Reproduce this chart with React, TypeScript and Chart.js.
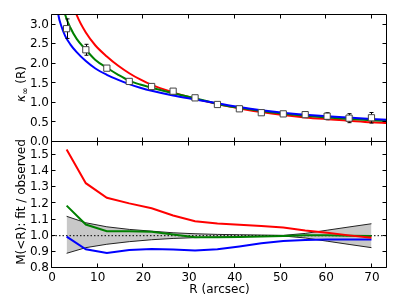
import React, { useEffect, useRef } from "react";
import { Chart, registerables } from "chart.js";

Chart.register(...registerables);

// ---------- data ----------
const R_OBS = [3.2, 7.4, 12.0, 16.9, 21.8, 26.5, 31.3, 36.2, 41.0, 45.8, 50.6, 55.4, 60.2, 65.0, 69.9];
const KAPPA_OBS = [2.9, 2.36, 1.89, 1.55, 1.42, 1.3, 1.13, 0.96, 0.85, 0.75, 0.72, 0.7, 0.66, 0.61, 0.62];
const KAPPA_ERR = [0.25, 0.14, 0.06, 0.04, 0.04, 0.04, 0.04, 0.03, 0.03, 0.03, 0.04, 0.07, 0.09, 0.115, 0.135];

const CURVE_R = [1.0, 1.4, 2.0, 2.9, 4.0, 5.4, 7.4, 9.5, 12, 14.5, 16.9, 19.3, 21.8, 26.5, 31.3, 36.2, 41, 45.8, 50.6, 55.4, 60.2, 65, 69.9, 73.3];
const KAPPA_RED = [7.5, 6.4, 5.3, 4.4, 3.75, 3.25, 2.8, 2.47, 2.19, 1.95, 1.76, 1.6, 1.46, 1.27, 1.11, 0.97, 0.86, 0.765, 0.69, 0.63, 0.585, 0.545, 0.505, 0.485];
const KAPPA_GREEN = [4.6, 4.1, 3.7, 3.25, 2.93, 2.64, 2.36, 2.1, 1.9, 1.72, 1.57, 1.47, 1.39, 1.25, 1.12, 0.975, 0.875, 0.79, 0.725, 0.67, 0.625, 0.59, 0.555, 0.535];
const KAPPA_BLUE = [3.65, 3.25, 2.98, 2.71, 2.5, 2.3, 2.07, 1.88, 1.72, 1.59, 1.48, 1.39, 1.31, 1.19, 1.09, 0.99, 0.895, 0.815, 0.75, 0.7, 0.66, 0.625, 0.59, 0.57];

const RATIO_RED = [1.534, 1.325, 1.235, 1.2, 1.17, 1.125, 1.09, 1.075, 1.067, 1.06, 1.05, 1.032, 1.018, 1.002, 0.988];
const RATIO_GREEN = [1.186, 1.069, 1.028, 1.028, 1.025, 1.008, 0.991, 0.99, 0.992, 0.995, 0.998, 1.002, 1.003, 1.0, 0.998];
const RATIO_BLUE = [0.994, 0.916, 0.893, 0.912, 0.918, 0.914, 0.908, 0.916, 0.933, 0.953, 0.967, 0.973, 0.977, 0.977, 0.977];
const BAND_UPPER = [1.12, 1.08, 1.055, 1.039, 1.028, 1.018, 1.012, 1.008, 1.006, 1.004, 1.002, 1.014, 1.034, 1.054, 1.074];
const BAND_LOWER = [0.891, 0.926, 0.947, 0.963, 0.975, 0.983, 0.988, 0.991, 0.994, 0.996, 0.998, 0.986, 0.966, 0.946, 0.926];
const REF_LINE = [1.0, 1.0];

const X_TICKS = [0, 10, 20, 30, 40, 50, 60, 70];
const KAPPA_TICKS = [0, 0.5, 1.0, 1.5, 2.0, 2.5, 3.0];
const RATIO_TICKS = [0.8, 0.9, 1.0, 1.1, 1.2, 1.3, 1.4, 1.5];
const X_MIN = 0;
const X_MAX = 73.3;
const KAPPA_MIN = 0;
const KAPPA_MAX = 3.25;
const RATIO_MIN = 0.8;
const RATIO_MAX = 1.58;

const X_TITLE = "R (arcsec)";
const KAPPA_TITLE_MAIN = "κ";
const KAPPA_TITLE_SUB = "∞";
const KAPPA_TITLE_REST = " (R)";
const RATIO_TITLE = "M(<R): fit / observed";

const FONT = "DejaVu Sans";
const W = 407;
const H = 308;

const pts = (xs: number[], ys: number[]) => xs.map((x, i) => ({ x, y: ys[i] }));

function makeFramePlugin(xTicks: number[], yTicks: number[], drawTitle: (ctx: CanvasRenderingContext2D, area: any) => void) {
  return {
    id: "frame",
    afterDraw(chart: any) {
      const { ctx, chartArea: a, scales } = chart;
      const xs = scales.x;
      const ys = scales.y;
      const L = Math.round(a.left) - 0.5;
      const R = Math.round(a.right) - 0.5;
      const T = Math.round(a.top) - 0.5;
      const B = Math.round(a.bottom) - 0.5;
      const tl = 4;
      ctx.save();
      ctx.strokeStyle = "#000";
      ctx.lineWidth = 1;
      ctx.beginPath();
      ctx.rect(L, T, R - L, B - T);
      xTicks.forEach((v) => {
        const px = Math.round(xs.getPixelForValue(v)) - 0.5;
        ctx.moveTo(px, B);
        ctx.lineTo(px, B - tl);
        ctx.moveTo(px, T);
        ctx.lineTo(px, T + tl);
      });
      yTicks.forEach((v) => {
        const py = Math.round(ys.getPixelForValue(v)) - 0.5;
        ctx.moveTo(L, py);
        ctx.lineTo(L + tl, py);
        ctx.moveTo(R, py);
        ctx.lineTo(R - tl, py);
      });
      ctx.stroke();
      drawTitle(ctx, a);
      ctx.restore();
    },
  };
}

const errorBarPlugin = {
  id: "errorbars",
  beforeDatasetDraw(chart: any, args: any) {
    if (args.index !== 0) return;
    const { ctx, scales } = chart;
    const xs = scales.x;
    const ys = scales.y;
    ctx.save();
    ctx.strokeStyle = "#000";
    ctx.lineWidth = 1;
    ctx.beginPath();
    R_OBS.forEach((r, i) => {
      const px = Math.round(xs.getPixelForValue(r)) + 0.5;
      const y1 = ys.getPixelForValue(KAPPA_OBS[i] + KAPPA_ERR[i]);
      const y2 = ys.getPixelForValue(KAPPA_OBS[i] - KAPPA_ERR[i]);
      ctx.moveTo(px, y1);
      ctx.lineTo(px, y2);
      ctx.moveTo(px - 2, y1);
      ctx.lineTo(px + 2, y1);
      ctx.moveTo(px - 2, y2);
      ctx.lineTo(px + 2, y2);
    });
    ctx.stroke();
    ctx.restore();
  },
};

const tickFont = { family: FONT, size: 12 };

function yAxis(min: number, max: number, ticks: number[]) {
  return {
    type: "linear" as const,
    min,
    max,
    grid: { display: false, drawTicks: false },
    border: { display: false },
    afterFit(s: any) {
      s.width = 52;
    },
    afterBuildTicks(s: any) {
      s.ticks = ticks.map((v) => ({ value: v }));
    },
    ticks: {
      padding: 3,
      color: "#000",
      font: tickFont,
      callback: (v: any) => Number(v).toFixed(1),
    },
  };
}

export default function App() {
  const topRef = useRef<HTMLCanvasElement>(null);
  const botRef = useRef<HTMLCanvasElement>(null);

  useEffect(() => {
    document.body.style.margin = "0";

    const topTitle = (ctx: CanvasRenderingContext2D, a: any) => {
      ctx.save();
      ctx.fillStyle = "#000";
      ctx.textBaseline = "alphabetic";
      const fMain = `italic 12px "${FONT}"`;
      const fSub = `9px "${FONT}"`;
      const fRest = `12px "${FONT}"`;
      ctx.font = fMain;
      const w1 = ctx.measureText(KAPPA_TITLE_MAIN).width;
      ctx.font = fSub;
      const w2 = ctx.measureText(KAPPA_TITLE_SUB).width;
      ctx.font = fRest;
      const w3 = ctx.measureText(KAPPA_TITLE_REST).width;
      const total = w1 + w2 + w3;
      const cy = 84;
      ctx.translate(25, cy);
      ctx.rotate(-Math.PI / 2);
      let x = -total / 2;
      ctx.font = fMain;
      ctx.fillText(KAPPA_TITLE_MAIN, x, 0);
      x += w1;
      ctx.font = fSub;
      ctx.fillText(KAPPA_TITLE_SUB, x, 3);
      x += w2;
      ctx.font = fRest;
      ctx.fillText(KAPPA_TITLE_REST, x, 0);
      ctx.restore();
    };

    const botTitle = (ctx: CanvasRenderingContext2D, a: any) => {
      ctx.save();
      ctx.fillStyle = "#000";
      ctx.font = `12px "${FONT}"`;
      ctx.textAlign = "center";
      ctx.textBaseline = "alphabetic";
      ctx.translate(25, 202);
      ctx.rotate(-Math.PI / 2);
      ctx.fillText(RATIO_TITLE, 0, 0);
      ctx.restore();
    };

    const top = new Chart(topRef.current!, {
      type: "scatter",
      data: {
        datasets: [
          {
            data: pts(R_OBS, KAPPA_OBS),
            pointStyle: "rect",
            pointRadius: 4.4,
            pointBackgroundColor: "#fff",
            pointBorderColor: "#444",
            pointBorderWidth: 1,
            showLine: false,
          },
          {
            data: pts(CURVE_R, KAPPA_BLUE),
            showLine: true,
            borderColor: "#0000ff",
            borderWidth: 2,
            pointRadius: 0,
            cubicInterpolationMode: "monotone",
            clip: 0,
          },
          {
            data: pts(CURVE_R, KAPPA_GREEN),
            showLine: true,
            borderColor: "#008000",
            borderWidth: 2,
            pointRadius: 0,
            cubicInterpolationMode: "monotone",
            clip: 0,
          },
          {
            data: pts(CURVE_R, KAPPA_RED),
            showLine: true,
            borderColor: "#ff0000",
            borderWidth: 2,
            pointRadius: 0,
            cubicInterpolationMode: "monotone",
            clip: 0,
          },
        ],
      },
      options: {
        responsive: false,
        animation: false,
        devicePixelRatio: 1,
        layout: { padding: { left: 0, top: 15, right: 20, bottom: 166 } },
        plugins: { legend: { display: false }, tooltip: { enabled: false } },
        scales: {
          x: { type: "linear", min: X_MIN, max: X_MAX, display: false },
          y: yAxis(KAPPA_MIN, KAPPA_MAX, KAPPA_TICKS),
        },
      } as any,
      plugins: [errorBarPlugin, makeFramePlugin(X_TICKS, KAPPA_TICKS, topTitle)],
    });

    const bot = new Chart(botRef.current!, {
      type: "scatter",
      data: {
        datasets: [
          {
            data: pts(R_OBS, RATIO_RED),
            showLine: true,
            borderColor: "#ff0000",
            borderWidth: 2,
            pointRadius: 0,
            clip: 0,
          },
          {
            data: pts(R_OBS, RATIO_BLUE),
            showLine: true,
            borderColor: "#0000ff",
            borderWidth: 2,
            pointRadius: 0,
            clip: 0,
          },
          {
            data: pts(R_OBS, RATIO_GREEN),
            showLine: true,
            borderColor: "#008000",
            borderWidth: 2,
            pointRadius: 0,
            clip: 0,
          },
          {
            data: pts([X_MIN, X_MAX], REF_LINE),
            showLine: true,
            borderColor: "#000",
            borderWidth: 1,
            borderDash: [1.5, 2],
            pointRadius: 0,
            clip: 0,
          },
          {
            data: pts(R_OBS, BAND_LOWER),
            showLine: true,
            borderColor: "#222",
            borderWidth: 1,
            pointRadius: 0,
            fill: false,
            clip: 0,
          },
          {
            data: pts(R_OBS, BAND_UPPER),
            showLine: true,
            borderColor: "#222",
            borderWidth: 1,
            pointRadius: 0,
            fill: 4,
            backgroundColor: "#c8c8c8",
            clip: 0,
          },
        ],
      },
      options: {
        responsive: false,
        animation: false,
        devicePixelRatio: 1,
        layout: { padding: { left: 0, top: 142, right: 20, bottom: 0 } },
        plugins: { legend: { display: false }, tooltip: { enabled: false }, filler: { propagate: false } },
        scales: {
          x: {
            type: "linear",
            min: X_MIN,
            max: X_MAX,
            grid: { display: false, drawTicks: false },
            border: { display: false },
            afterFit(s: any) {
              s.height = 40;
            },
            afterBuildTicks(s: any) {
              s.ticks = X_TICKS.map((v) => ({ value: v }));
            },
            ticks: {
              padding: 3,
              color: "#000",
              font: tickFont,
              maxRotation: 0,
              minRotation: 0,
              autoSkip: false,
              callback: (v: any) => String(v),
            },
            title: {
              display: true,
              text: X_TITLE,
              color: "#000",
              font: tickFont,
              padding: { top: 0, bottom: 11 },
            },
          },
          y: yAxis(RATIO_MIN, RATIO_MAX, RATIO_TICKS),
        },
      } as any,
      plugins: [makeFramePlugin(X_TICKS, RATIO_TICKS, botTitle)],
    });

    return () => {
      top.destroy();
      bot.destroy();
    };
  }, []);

  const canvasStyle: React.CSSProperties = { position: "absolute", left: 0, top: 0, display: "block" };
  return (
    <div style={{ position: "fixed", left: 0, top: 0, width: W, height: H, background: "#fff" }}>
      <canvas ref={botRef} width={W} height={H} style={canvasStyle} />
      <canvas ref={topRef} width={W} height={H} style={canvasStyle} />
    </div>
  );
}
